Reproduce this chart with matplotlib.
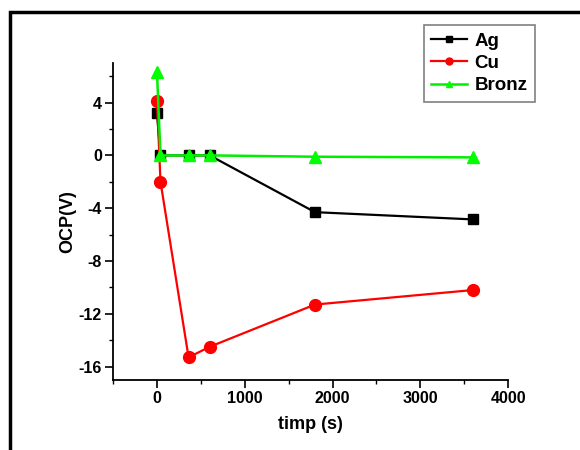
import matplotlib
matplotlib.use('Agg')
import matplotlib.pyplot as plt
from matplotlib.pyplot import MultipleLocator
from matplotlib.patches import Rectangle

plt.rcParams['font.family'] = ['Liberation Sans', 'DejaVu Sans']
plt.rcParams['font.weight'] = 'bold'
plt.rcParams['axes.unicode_minus'] = False  # plain hyphen like the original
plt.rcParams['xtick.direction'] = 'out'
plt.rcParams['ytick.direction'] = 'out'

# data
t = [0, 40, 360, 600, 1800, 3600]
ag = [3.2, 0.0, 0.0, 0.0, -4.3, -4.85]
cu = [4.1, -2.0, -15.3, -14.5, -11.3, -10.2]
bronz = [6.3, 0.0, 0.0, 0.0, -0.1, -0.15]

fig = plt.figure(figsize=(5.8, 4.5), dpi=100)
ax = fig.add_axes([0.195, 0.156, 0.681, 0.704])

# outer frame (clipped at right/bottom like the original)
fig.patches.append(Rectangle((10 / 580, -0.05), 1.2, 1 - 12 / 450 + 0.05,
                             transform=fig.transFigure, fill=False,
                             edgecolor='black', linewidth=2.5, zorder=0))

ax.plot(t, ag, marker='s', color='black', ms=7, lw=1.6, label='Ag')
ax.plot(t, cu, marker='o', color='#ff0000', ms=8.5, lw=1.6, label='Cu')
ax.plot(t, bronz, marker='^', color='#00ee00', mfc='#00ff00', mec='#00ff00',
        ms=9, lw=1.8, label='Bronz')

ax.set_xlim(-500, 4000)
ax.set_ylim(-17, 7)
ax.xaxis.set_major_locator(MultipleLocator(1000))
ax.xaxis.set_minor_locator(MultipleLocator(500))
ax.yaxis.set_major_locator(MultipleLocator(4))
ax.yaxis.set_minor_locator(MultipleLocator(2))

for s in ['top', 'right']:
    ax.spines[s].set_visible(False)
for s in ['left', 'bottom']:
    ax.spines[s].set_linewidth(1.3)
ax.tick_params(which='major', length=6, width=1.2, labelsize=11.5, pad=2)
ax.tick_params(which='minor', length=3, width=1.0)

ax.set_xlabel('timp (s)', fontsize=13, fontweight='bold', labelpad=7)
ax.set_ylabel('OCP(V)', fontsize=13, fontweight='bold', labelpad=2)

leg = ax.legend(loc='upper right', bbox_to_anchor=(1.068, 1.12), fontsize=13.5,
                fancybox=False, framealpha=1, edgecolor='gray',
                handlelength=1.9, borderpad=0.4, labelspacing=0.28,
                handletextpad=0.4, borderaxespad=0)
leg.get_frame().set_linewidth(1.2)
for lh in leg.legend_handles:
    lh.set_markersize(5)

plt.savefig('out.png', dpi=100)
